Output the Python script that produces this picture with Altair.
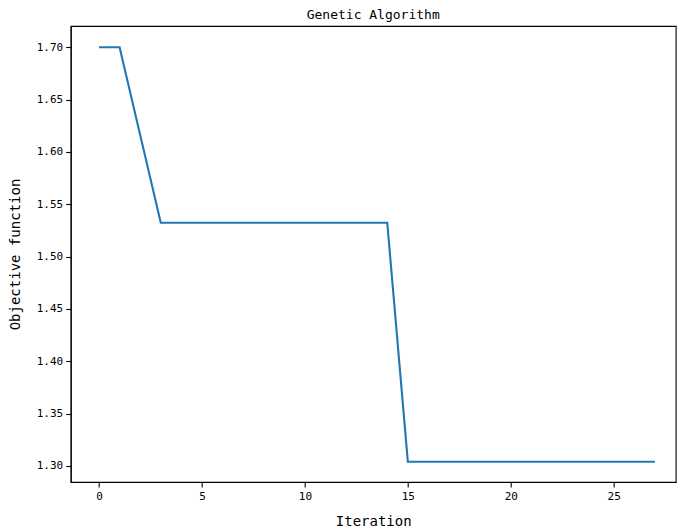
import altair as alt
import pandas as pd

iterations = list(range(28))
objective = [1.70, 1.70, 1.6162] + [1.5324] * 12 + [1.3041] * 13

x_ticks = [0, 5, 10, 15, 20, 25]
y_ticks = [1.30, 1.35, 1.40, 1.45, 1.50, 1.55, 1.60, 1.65, 1.70]

df = pd.DataFrame({"Iteration": iterations, "Objective": objective})

FONT = "DejaVu Sans Mono"

chart = (
    alt.Chart(df)
    .mark_line(color="#1f77b4", strokeWidth=2.1, clip=True)
    .encode(
        x=alt.X(
            "Iteration:Q",
            scale=alt.Scale(domain=[-1.375, 28.01], nice=False, zero=False),
            axis=alt.Axis(values=x_ticks, title="Iteration", format="d",
                          titlePadding=13),
        ),
        y=alt.Y(
            "Objective:Q",
            scale=alt.Scale(domain=[1.2847, 1.7203], nice=False, zero=False),
            axis=alt.Axis(values=y_ticks, title="Objective function", format=".2f",
                          titlePadding=14),
        ),
    )
    .properties(
        width=605,
        height=456,
        background="white",
        title=alt.TitleParams("Genetic Algorithm", font=FONT, fontSize=13,
                              fontWeight="normal", color="black", offset=4),
        autosize=alt.AutoSizeParams(type="none"),
        padding={"left": 62.7, "top": 18, "right": 1.3, "bottom": 46},
    )
    .configure_view(stroke="black", strokeWidth=1.1)
    .configure_axis(
        grid=False,
        domainColor="black",
        domainWidth=1.1,
        tickColor="black",
        tickWidth=1.1,
        tickSize=5,
        labelFont=FONT,
        labelFontSize=11,
        labelColor="black",
        labelPadding=3,
        titleFont=FONT,
        titleFontSize=14,
        titleFontWeight="normal",
        titleColor="black",
    )
)

chart.save("out.html", embed_options={"renderer": "svg", "actions": False})
